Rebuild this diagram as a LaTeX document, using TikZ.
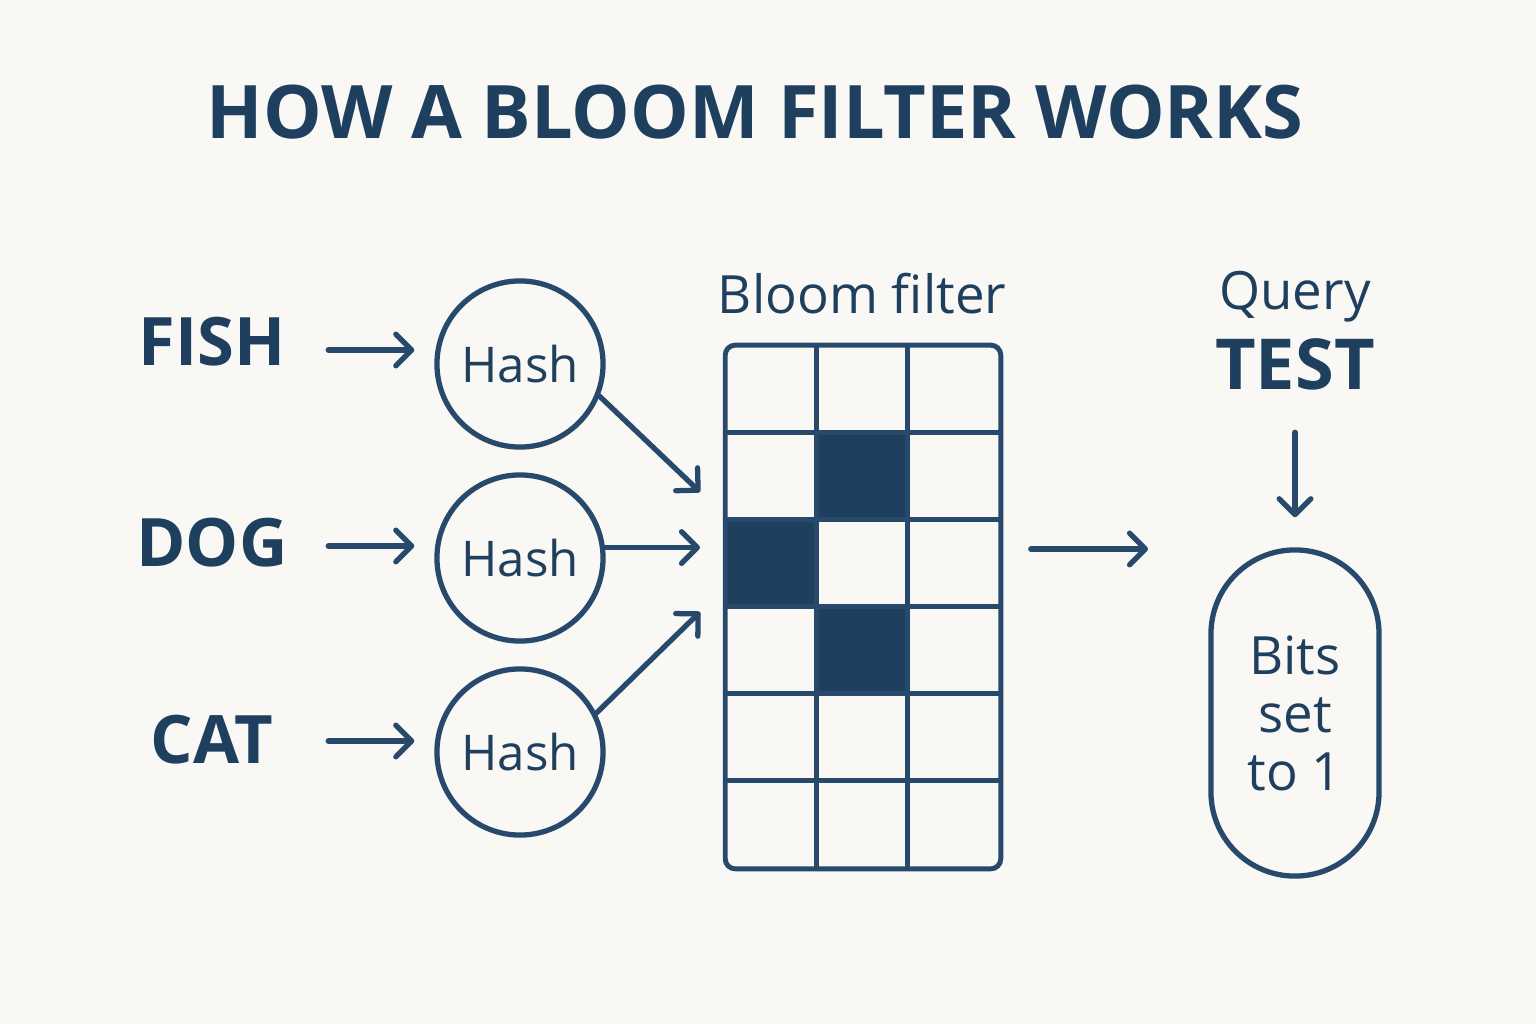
\documentclass[tikz,border=0pt]{standalone}
\usepackage{fontspec}
\setmainfont{Open Sans}
\usetikzlibrary{arrows.meta,calc,positioning}
\definecolor{paper}{HTML}{FAF8F4}
\definecolor{navy}{HTML}{1F3F5F}
\definecolor{ink}{HTML}{26496C}

\tikzset{
  arr/.style={draw=ink, line width=1.5pt, line cap=round,
    -{Straight Barb[length=4.5pt,width=9pt,round]}},
  word/.style={font=\fontsize{19}{22}\selectfont\bfseries, text=navy},
  hash/.style={circle, draw=ink, line width=1.5pt, minimum size=1.66cm,
    inner sep=0pt, font=\fontsize{14}{16}\selectfont, text=navy},
  cellline/.style={draw=ink, line width=1.4pt}
}

\begin{document}
\begin{tikzpicture}[x=0.01cm,y=-0.01cm]
\fill[paper] (0,0) rectangle (1536,1024);
\useasboundingbox (0,0) rectangle (1536,1024);

% title
\node[font=\fontsize{21}{24}\selectfont\bfseries, text=navy] (title) at (755,112) {HOW A BLOOM FILTER WORKS};

% inputs
\node[word] (fish) at (212,342) {FISH};
\node[word] (dog) at (212,543) {DOG};
\node[word] (cat) at (212,740) {CAT};

\node[hash] (h1) at (520,364) {Hash};
\node[hash] (h2) at (520,558) {Hash};
\node[hash] (h3) at (520,752) {Hash};

\draw[arr] ([xshift=-1.06cm,yshift=-0.08cm]h1.west |- fish.east) -- ([xshift=-0.2cm,yshift=-0.08cm]h1.west |- fish.east);
\draw[arr] ([xshift=-1.06cm,yshift=-0.03cm]h2.west |- dog.east) -- ([xshift=-0.2cm,yshift=-0.03cm]h2.west |- dog.east);
\draw[arr] ([xshift=-1.06cm,yshift=-0.01cm]h3.west |- cat.east) -- ([xshift=-0.2cm,yshift=-0.01cm]h3.west |- cat.east);

% bloom filter
\node[text=navy, font=\fontsize{15}{18}\selectfont] (lbl) at (862,294) {Bloom filter};
\node[minimum width=2.74cm, minimum height=5.22cm, inner sep=0pt] (filter) at (863,607) {};
\foreach \r/\c in {2/2,3/1,4/2}
  \fill[navy] ($(filter.north west)+(\c*91.3-91.3,\r*87-87)$) rectangle ++(91.3,87);
\foreach \i in {1,2}
  \draw[cellline] ($(filter.north west)+(\i*91.3,0)$) -- ++(0,522);
\foreach \i in {1,...,5}
  \draw[cellline] ($(filter.north west)+(0,\i*87)$) -- ++(274,0);
\draw[cellline, rounded corners=0.1cm] (filter.north west) rectangle (filter.south east);

\coordinate (in1) at (700,492);
\coordinate (in2) at (700,548);
\coordinate (in3) at (700,612);
\draw[arr] (h1.-22) -- (in1);
\draw[arr] (h2.7) -- (h2.7 -| in2);
\draw[arr] (h3.27) -- (in3);

% query
\node[text=navy, font=\fontsize{15}{18}\selectfont] (query) at (1295,297) {Query};
\node[word, font=\fontsize{20}{24}\selectfont\bfseries] (test) at (1295,364) {TEST};
\node[draw=ink, line width=1.5pt, rounded corners=0.84cm, minimum width=1.68cm,
  minimum height=3.26cm, inner sep=0pt] (bits) at (1295,713) {};
\node[align=center, text=navy, font=\fontsize{15}{16.5}\selectfont] (bitstxt) at (bits.center) {Bits\\set\\to 1};

\coordinate (out) at (1148,549);
\draw[arr] ([xshift=0.3cm]filter.east |- out) -- (out);
\draw[arr] ([yshift=-0.3cm]test.south) -- ([yshift=0.3cm]bits.north);
\end{tikzpicture}
\end{document}
